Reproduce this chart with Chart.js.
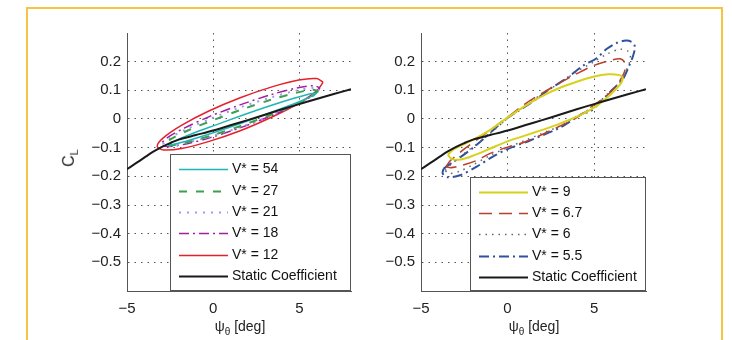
<!DOCTYPE html>
<html lang="en">
<head>
<meta charset="UTF-8" />
<title>C_L hysteresis loops</title>
<script src="https://cdn.jsdelivr.net/npm/chart.js"></script>
<style>
  body { margin: 0; background: #fff; font-family: "Liberation Sans", Arial, sans-serif; }
  .page { position: relative; width: 732px; height: 340px; overflow: hidden; }
  .frame { position: absolute; left: 26px; top: 7px; width: 697px; height: 400px; border: 2px solid #f6c343; box-sizing: border-box; }
  .plot { position: absolute; top: 18px; width: 340px; height: 322px; }
  .xtitle { position: absolute; top: 318px; font-size: 14px; color: #222; transform: translateX(-50%); white-space: nowrap; }
  .xtitle sub { font-size: 10px; }
  .ytitle { position: absolute; left: 70px; top: 158px; font-size: 16px; color: #222; transform: translate(-50%, -50%) rotate(-90deg); white-space: nowrap; }
  .ytitle sub { font-size: 11px; }
</style>
</head>
<body>
<div class="page">
  <div class="frame"></div>
  <div class="plot" style="left:30px"><canvas id="leftChart" width="340" height="322"></canvas></div>
  <div class="plot" style="left:380px"><canvas id="rightChart" width="340" height="322"></canvas></div>
  <div class="ytitle">C<sub>L</sub></div>
  <div class="xtitle" style="left:240px">ψ<sub>θ</sub> [deg]</div>
  <div class="xtitle" style="left:534px">ψ<sub>θ</sub> [deg]</div>
</div>

<script>
  const xTicks = [-5, 0, 5];
  const yTicks = [0.2, 0.1, 0, -0.1, -0.2, -0.3, -0.4, -0.5];

  // static lift coefficient curve (same on both panels)
  const staticCoeff = [[-5,-0.175],[-4.5,-0.155],[-4,-0.135],[-3.5,-0.115],[-3,-0.098],[-2.5,-0.084],[-2,-0.072],
    [-1,-0.056],[0,-0.04],[1,-0.022],[2,-0.004],[3,0.015],[4,0.034],[5,0.052],[6,0.07],[7,0.087],[8,0.104]];

  // left panel loops
  const loopV54 = [[6.0,0.090],[5.67,0.078],[4.74,0.054],[3.35,0.023],[1.7,-0.013],[0.05,-0.047],[-1.34,-0.073],[-2.27,-0.088],
    [-2.6,-0.090],[-2.27,-0.078],[-1.34,-0.054],[0.05,-0.023],[1.7,0.013],[3.35,0.047],[4.74,0.073],[5.67,0.088],[6.0,0.090]];
  const loopV27 = [[6.1,0.098],[5.76,0.080],[4.80,0.051],[3.35,0.015],[1.65,-0.023],[-0.05,-0.057],[-1.50,-0.081],[-2.46,-0.092],
    [-2.8,-0.088],[-2.46,-0.070],[-1.50,-0.041],[-0.05,-0.005],[1.65,0.033],[3.35,0.067],[4.80,0.091],[5.76,0.102],[6.1,0.098]];
  const loopV21 = [[6.15,0.103],[5.81,0.083],[4.82,0.051],[3.36,0.013],[1.63,-0.027],[-0.11,-0.060],[-1.57,-0.084],[-2.56,-0.094],
    [-2.9,-0.088],[-2.56,-0.068],[-1.57,-0.036],[-0.11,0.002],[1.63,0.042],[3.36,0.075],[4.82,0.099],[5.81,0.109],[6.15,0.103]];
  const loopV18 = [[6.2,0.108],[5.85,0.085],[4.85,0.051],[3.36,0.011],[1.6,-0.030],[-0.16,-0.065],[-1.65,-0.088],[-2.65,-0.096],
    [-3.0,-0.088],[-2.65,-0.065],[-1.65,-0.031],[-0.16,0.010],[1.6,0.050],[3.36,0.085],[4.85,0.108],[5.85,0.116],[6.2,0.108]];
  const loopV12 = [[6.38,0.128],[6.01,0.098],[4.97,0.055],[3.41,0.007],[1.57,-0.041],[-0.28,-0.079],[-1.84,-0.103],[-2.88,-0.108],
    [-3.25,-0.095],[-2.88,-0.065],[-1.84,-0.022],[-0.28,0.027],[1.57,0.074],[3.41,0.112],[4.97,0.136],[6.01,0.141],[6.38,0.128]];

  // right panel loops
  const loopV9 = [[-3.45,-0.125],[-3.1,-0.105],[-2,-0.073],[-1,-0.038],[0,0.005],[1,0.045],[2,0.08],[3,0.108],[4,0.13],[5,0.148],
    [5.8,0.156],[6.4,0.154],[6.65,0.145],[6.55,0.125],[6.2,0.1],[5.7,0.072],[5,0.04],[4,0.008],[3,-0.017],[2,-0.038],[1,-0.058],
    [0,-0.078],[-1,-0.103],[-2,-0.128],[-2.7,-0.141],[-3.2,-0.14],[-3.45,-0.125]];
  const loopV67 = [[-3.55,-0.166],[-3.3,-0.145],[-2.4,-0.1],[-1.6,-0.065],[-0.8,-0.03],[0,0.006],[1,0.052],[2,0.09],[3,0.125],
    [4,0.158],[5,0.187],[6,0.205],[6.5,0.21],[6.75,0.198],[6.78,0.17],[6.6,0.145],[6.2,0.108],[5.5,0.07],[5,0.05],[4,0.005],
    [2.5,-0.04],[1,-0.08],[0,-0.098],[-1,-0.12],[-1.8,-0.145],[-2.7,-0.163],[-3.3,-0.17],[-3.55,-0.166]];
  const loopV6 = [[-3.6,-0.18],[-3.3,-0.16],[-2.5,-0.12],[-1.5,-0.075],[-0.7,-0.035],[0,0.002],[1,0.045],[2,0.088],[3,0.125],
    [4,0.165],[5,0.2],[5.8,0.228],[6.5,0.243],[7.0,0.235],[7.1,0.21],[6.9,0.175],[6.65,0.14],[6,0.1],[5,0.045],[4,0.01],
    [3,-0.025],[2,-0.05],[1,-0.075],[0,-0.1],[-1,-0.127],[-2,-0.16],[-2.8,-0.183],[-3.4,-0.19],[-3.6,-0.18]];
  const loopV55 = [[-3.7,-0.174],[-3.4,-0.16],[-2.74,-0.134],[-1.78,-0.09],[-0.82,-0.038],[0,0.004],[0.53,0.025],[1.49,0.062],
    [2.45,0.105],[3.41,0.142],[4.36,0.186],[5.15,0.212],[5.72,0.244],[6.3,0.265],[6.85,0.274],[7.2,0.268],[7.36,0.252],
    [7.25,0.22],[6.95,0.175],[6.67,0.14],[5.9,0.093],[5.34,0.058],[4.76,0.025],[4.37,0.02],[3.03,-0.03],[1.3,-0.075],
    [0,-0.105],[-0.82,-0.13],[-1.78,-0.166],[-2.74,-0.196],[-3.5,-0.203],[-3.75,-0.19],[-3.7,-0.174]];

  const toXY = pts => pts.map(p => ({ x: p[0], y: p[1] }));

  function line(label, pts, color, width, dash) {
    return {
      label: label,
      data: toXY(pts),
      borderColor: color,
      borderWidth: width,
      borderDash: dash,
      showLine: true,
      pointRadius: 0,
      tension: 0.3,
      fill: false
    };
  }

  function staticLine() {
    const ds = line('Static Coefficient', staticCoeff, '#1a1a1a', 2, []);
    ds.order = -1;
    return ds;
  }

  // legend box drawn inside the plot area, bottom right
  const boxLegend = {
    id: 'boxLegend',
    afterDatasetsDraw(chart, args, opts) {
      const { ctx, chartArea } = chart;
      const x0 = chartArea.right - opts.width;
      const y0 = chartArea.bottom - opts.height;
      ctx.save();
      ctx.fillStyle = '#fff';
      ctx.fillRect(x0, y0, opts.width, opts.height);
      ctx.strokeStyle = '#555';
      ctx.lineWidth = 1;
      ctx.strokeRect(x0 + 0.5, y0 + 0.5, opts.width - 1, opts.height - 1);
      ctx.font = '14px "Liberation Sans", Arial, sans-serif';
      ctx.textBaseline = 'middle';
      chart.data.datasets.forEach((ds, i) => {
        const y = Math.round(y0 + opts.firstRow + i * opts.rowH) + 0.5;
        ctx.strokeStyle = ds.borderColor;
        ctx.lineWidth = ds.borderWidth;
        ctx.setLineDash(ds.borderDash || []);
        ctx.beginPath();
        ctx.moveTo(x0 + 9, y);
        ctx.lineTo(x0 + 58, y);
        ctx.stroke();
        ctx.setLineDash([]);
        ctx.fillStyle = '#111';
        ctx.fillText(ds.label, x0 + 62, y);
      });
      ctx.restore();
    }
  };

  const fmt = v => v === 0 ? '0' : (v < 0 ? '\u2212' + Math.abs(v) : String(v));

  function makeChart(id, datasets, yWidth, rightPad, legend) {
    return new Chart(document.getElementById(id), {
      type: 'scatter',
      data: { datasets: datasets },
      plugins: [boxLegend],
      options: {
        responsive: false,
        animation: false,
        layout: { padding: { left: 0, right: rightPad, top: 14, bottom: 0 } },
        plugins: {
          legend: { display: false },
          tooltip: { enabled: false },
          boxLegend: legend
        },
        scales: {
          x: {
            type: 'linear',
            min: -5,
            max: 8,
            afterBuildTicks: s => { s.ticks = xTicks.map(v => ({ value: v })); },
            afterFit: s => { s.height = 49; },
            grid: { color: '#555', lineWidth: 1, drawTicks: false },
            border: { display: true, color: '#555', width: 1, dash: [1.5, 5] },
            ticks: { color: '#222', padding: 9, font: { size: 15, family: '"Liberation Sans", Arial, sans-serif' }, callback: fmt }
          },
          y: {
            type: 'linear',
            min: -0.6,
            max: 0.3,
            afterBuildTicks: s => { s.ticks = yTicks.map(v => ({ value: v })); },
            afterFit: s => { s.width = yWidth; },
            grid: { color: '#555', lineWidth: 1, drawTicks: false },
            border: { display: true, color: '#555', width: 1, dash: [1.5, 5] },
            ticks: { color: '#222', padding: 6, font: { size: 15, family: '"Liberation Sans", Arial, sans-serif' }, callback: fmt }
          }
        }
      }
    });
  }

  makeChart('leftChart', [
    line('V* = 54', loopV54, '#1fb5b5', 1.5, []),
    line('V* = 27', loopV27, '#3da050', 2, [8, 9]),
    line('V* = 21', loopV21, '#9c9cf0', 2, [2, 6]),
    line('V* = 18', loopV18, '#a020a0', 1.5, [10, 4, 2, 4]),
    line('V* = 12', loopV12, '#e4202a', 1.5, []),
    staticLine()
  ], 97, 19, { width: 181, height: 137, firstRow: 15.3, rowH: 21.3 });

  makeChart('rightChart', [
    line('V* = 9', loopV9, '#d6d21c', 2, []),
    line('V* = 6.7', loopV67, '#b8402c', 1.5, [13, 7]),
    line('V* = 6', loopV6, '#666', 1.5, [1.5, 5]),
    line('V* = 5.5', loopV55, '#3050a0', 2, [10, 4, 2, 4]),
    staticLine()
  ], 41, 74, { width: 176, height: 114, firstRow: 14.7, rowH: 21.3 });
</script>
</body>
</html>
